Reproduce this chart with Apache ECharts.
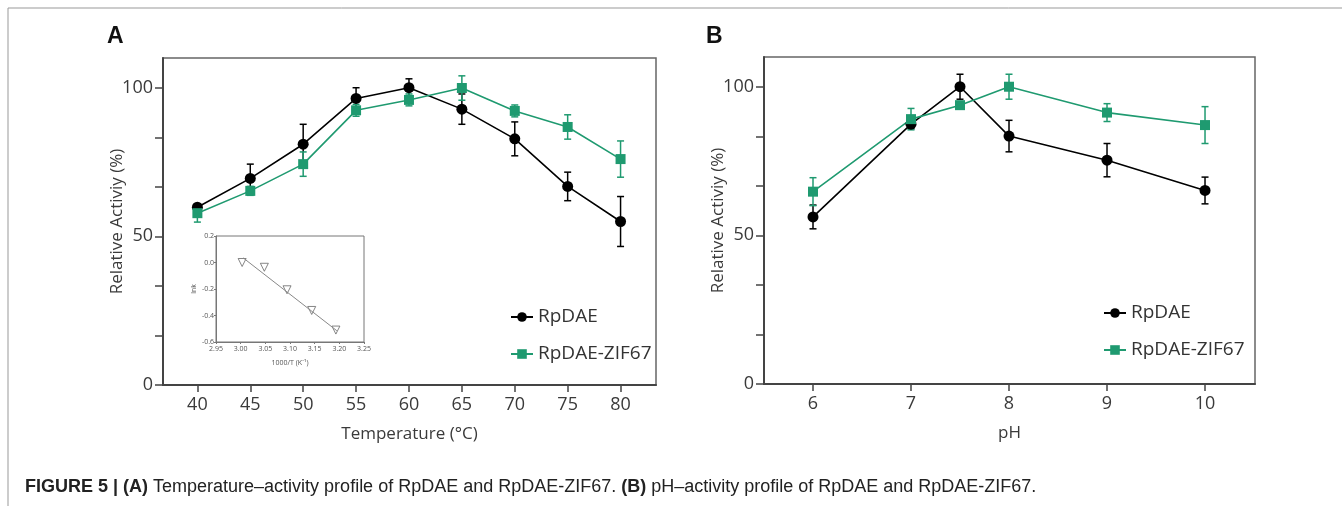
<!DOCTYPE html>
<html>
<head>
<meta charset="utf-8">
<script src="https://cdn.jsdelivr.net/npm/echarts@6/dist/echarts.min.js"></script>
<style>
  html, body { margin: 0; padding: 0; background: #fff; }
  #main { width: 1342px; height: 506px; }
</style>
</head>
<body>
<div id="main"></div>
<script>
// panel A: temperature profile
const tempC = [40, 45, 50, 55, 60, 65, 70, 75, 80]
const tempFree = [59.8, 69.5, 81.0, 96.4, 100, 92.8, 82.8, 66.8, 55.0]
const tempFreeErr = [0.8, 4.8, 6.7, 3.6, 3.0, 5.1, 5.7, 4.8, 8.4]
const tempZif = [57.8, 65.3, 74.3, 92.4, 95.9, 99.9, 92.2, 86.8, 76.0]
const tempZifErr = [3.0, 1.5, 4.1, 2.0, 2.0, 4.1, 2.0, 4.1, 6.1]

// panel B: pH profile
const phVals = [6, 7, 7.5, 8, 9, 10]
const phFree = [56.2, 87.4, 100, 83.4, 75.3, 65.1]
const phFreeErr = [4.0, 1.5, 4.2, 5.3, 5.6, 4.5]
const phZif = [64.7, 89.1, 93.8, 100, 91.3, 87.1]
const phZifErr = [4.7, 3.6, 1.0, 4.2, 3.0, 6.2]

// inset: Arrhenius plot
const invT = [3.003, 3.048, 3.094, 3.144, 3.193]
const lnk = [0.0, -0.036, -0.206, -0.362, -0.51]
const fitX = [3.005, 3.195]
const fitY = [0.035, -0.515]

const tempTicks = [40, 45, 50, 55, 60, 65, 70, 75, 80]
const phTicks = [6, 7, 8, 9, 10]
const yTicks = [0, 50 / 3, 100 / 3, 50, 200 / 3, 250 / 3, 100]
const yLabels = [0, 50, 100]
const insetXTicks = [2.95, 3.0, 3.05, 3.1, 3.15, 3.2, 3.25]
const insetYTicks = [-0.6, -0.4, -0.2, 0.0, 0.2]

const BLACK = '#000000'
const GREEN = '#1f9a70'
const AXIS = '#444'
const FONT = 'Open Sans'

const zip = (xs, ys, es) => xs.map((x, i) => es ? [x, ys[i], es[i]] : [x, ys[i]])

const errBar = (color) => (params, api) => {
    const x = api.value(0), y = api.value(1), e = api.value(2)
    const top = api.coord([x, y + e])
    const bot = api.coord([x, y - e])
    const w = 3.5
    const st = { stroke: color, lineWidth: 1.5 }
    return {
        type: 'group',
        children: [
            { type: 'line', shape: { x1: top[0], y1: top[1], x2: bot[0], y2: bot[1] }, style: st },
            { type: 'line', shape: { x1: top[0] - w, y1: top[1], x2: top[0] + w, y2: top[1] }, style: st },
            { type: 'line', shape: { x1: bot[0] - w, y1: bot[1], x2: bot[0] + w, y2: bot[1] }, style: st }
        ]
    }
}

const mainY = (gi) => ({
    type: 'value', gridIndex: gi, min: 0, max: 110,
    axisLine: { show: true, lineStyle: { color: AXIS, width: 2 } },
    axisTick: { show: true, length: 8, customValues: yTicks, lineStyle: { color: AXIS, width: 1.5 } },
    axisLabel: { customValues: yLabels, color: '#3a3a3a', fontSize: 18, fontFamily: FONT, margin: 10 },
    splitLine: { show: false },
    name: 'Relative Activiy (%)', nameLocation: 'middle', nameGap: 37, nameMoveOverlap: false,
    nameTextStyle: { color: '#3a3a3a', fontSize: 17, fontFamily: FONT }
})

const mainX = (gi, min, max, ticks, name) => ({
    type: 'value', gridIndex: gi, min: min, max: max,
    axisLine: { show: true, onZero: false, lineStyle: { color: AXIS, width: 2 } },
    axisTick: { show: true, length: 7, customValues: ticks, lineStyle: { color: AXIS, width: 1.5 } },
    axisLabel: { customValues: ticks, color: '#3a3a3a', fontSize: 18, fontFamily: FONT, margin: 11 },
    splitLine: { show: false },
    name: name, nameLocation: 'middle', nameGap: 41,
    nameTextStyle: { color: '#3a3a3a', fontSize: 17, fontFamily: FONT }
})

const lineSeries = (name, xi, data, color, symbol) => ({
    name: name, type: 'line', xAxisIndex: xi, yAxisIndex: xi,
    data: data, symbol: symbol, symbolSize: symbol === 'circle' ? 11 : 10,
    lineStyle: { color: color, width: 1.6 },
    itemStyle: { color: color },
    z: 5
})

const errSeries = (xi, data, color) => ({
    type: 'custom', xAxisIndex: xi, yAxisIndex: xi,
    renderItem: errBar(color), data: data, z: 3, silent: true
})

const legendFor = (left, top) => ({
    orient: 'vertical', left: left, top: top,
    data: ['RpDAE', 'RpDAE-ZIF67'],
    itemWidth: 22, itemHeight: 12, itemGap: 15,
    textStyle: { color: '#333', fontSize: 19, fontFamily: FONT, lineHeight: 22 }
})

const smallTxt = { color: '#555', fontSize: 7, fontFamily: FONT }

const option = {
    animation: false,
    backgroundColor: '#fff',
    grid: [
        { left: 163, top: 58, width: 493, height: 327, show: true, borderColor: '#666', borderWidth: 1.5 },
        { left: 764, top: 57, width: 491, height: 327, show: true, borderColor: '#666', borderWidth: 1.5 },
        { left: 216, top: 236, width: 148, height: 106, show: true, borderColor: '#777', borderWidth: 1 }
    ],
    xAxis: [
        mainX(0, 36.75, 83.35, tempTicks, 'Temperature (°C)'),
        mainX(1, 5.5, 10.51, phTicks, 'pH'),
        {
            type: 'value', gridIndex: 2, min: 2.95, max: 3.25,
            axisLine: { show: true, onZero: false, lineStyle: { color: '#777', width: 1 } },
            axisTick: { show: true, length: 2, customValues: insetXTicks, lineStyle: { color: '#777' } },
            axisLabel: { customValues: insetXTicks, formatter: (v) => v.toFixed(2), margin: 3, ...smallTxt },
            splitLine: { show: false },
            name: '1000/T (K⁻¹)', nameLocation: 'middle', nameGap: 17, nameTextStyle: smallTxt
        }
    ],
    yAxis: [
        mainY(0),
        mainY(1),
        {
            type: 'value', gridIndex: 2, min: -0.6, max: 0.2,
            axisLine: { show: true, onZero: false, lineStyle: { color: '#777', width: 1 } },
            axisTick: { show: true, length: 2, customValues: insetYTicks, lineStyle: { color: '#777' } },
            axisLabel: { customValues: insetYTicks, formatter: (v) => v.toFixed(1), margin: 2, ...smallTxt },
            splitLine: { show: false },
            name: 'lnk', nameLocation: 'middle', nameGap: 19, nameTextStyle: smallTxt
        }
    ],
    legend: [legendFor(505, 301), legendFor(1098, 297)],
    graphic: [
        { type: 'text', left: 107, top: 25, style: { text: 'A', font: 'bold 23px "Liberation Sans"', fill: '#111' } },
        { type: 'text', left: 706, top: 25, style: { text: 'B', font: 'bold 23px "Liberation Sans"', fill: '#111' } },
        { type: 'polyline', shape: { points: [[8, 506], [8, 8], [1342, 8]] }, style: { stroke: '#999', lineWidth: 1, fill: null } },
        {
            type: 'text', left: 25, top: 478,
            style: {
                rich: {
                    b: { font: 'bold 18px "Liberation Sans"', fill: '#222' },
                    n: { font: '18px "Liberation Sans"', fill: '#222' }
                },
                text: '{b|FIGURE 5 | (A)}{n| Temperature–activity profile of RpDAE and RpDAE-ZIF67. }{b|(B)}{n| pH–activity profile of RpDAE and RpDAE-ZIF67.}'
            }
        }
    ],
    series: [
        errSeries(0, zip(tempC, tempFree, tempFreeErr), BLACK),
        errSeries(0, zip(tempC, tempZif, tempZifErr), GREEN),
        lineSeries('RpDAE', 0, zip(tempC, tempFree), BLACK, 'circle'),
        lineSeries('RpDAE-ZIF67', 0, zip(tempC, tempZif), GREEN, 'rect'),
        errSeries(1, zip(phVals, phFree, phFreeErr), BLACK),
        errSeries(1, zip(phVals, phZif, phZifErr), GREEN),
        lineSeries('RpDAE', 1, zip(phVals, phFree), BLACK, 'circle'),
        lineSeries('RpDAE-ZIF67', 1, zip(phVals, phZif), GREEN, 'rect'),
        {
            type: 'line', xAxisIndex: 2, yAxisIndex: 2, data: zip(fitX, fitY),
            symbol: 'none', lineStyle: { color: '#888', width: 1 }, silent: true
        },
        {
            type: 'scatter', xAxisIndex: 2, yAxisIndex: 2, data: zip(invT, lnk),
            symbol: 'triangle', symbolRotate: 180, symbolSize: 8,
            itemStyle: { color: '#fff', borderColor: '#666', borderWidth: 1 }, silent: true
        }
    ]
}

const chart = echarts.init(document.getElementById('main'))
chart.setOption(option)
</script>
</body>
</html>
